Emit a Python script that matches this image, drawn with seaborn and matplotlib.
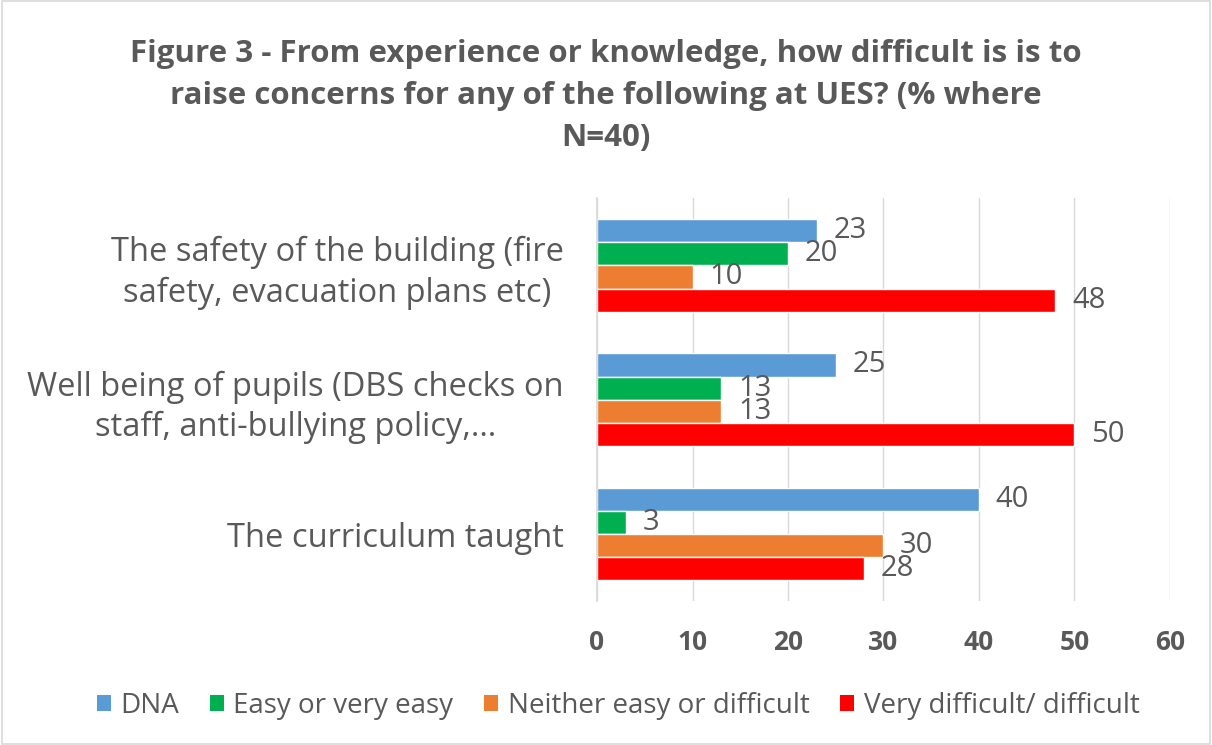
import matplotlib
matplotlib.use("Agg")
import matplotlib.pyplot as plt
import seaborn as sns
import pandas as pd
from matplotlib.patches import Rectangle, Patch

categories = ["The safety of the building (fire\nsafety, evacuation plans etc)",
              "Well being of pupils (DBS checks on\nstaff, anti-bullying policy,\u2026",
              "The curriculum taught"]
series = ["DNA", "Easy or very easy", "Neither easy or difficult", "Very difficult/ difficult"]
dna = [23, 25, 40]
easy = [20, 13, 3]
neither = [10, 13, 30]
very_difficult = [48, 50, 28]
colors = ["#5B9BD5", "#00B050", "#ED7D31", "#FF0000"]
xticks = [0, 10, 20, 30, 40, 50, 60]

rows = []
for s, vals in zip(series, [dna, easy, neither, very_difficult]):
    for c, v in zip(categories, vals):
        rows.append({"Category": c, "Series": s, "Value": v})
df = pd.DataFrame(rows)

sns.set_theme(style="white")
plt.rcParams["font.family"] = ["Open Sans", "DejaVu Sans"]
grey = "#595959"

fig = plt.figure(figsize=(12.12, 7.45), dpi=100)
ax = fig.add_axes([0.4926, 0.193, 0.4727, 0.541])

sns.barplot(data=df, y="Category", x="Value", hue="Series", order=categories,
            hue_order=series, palette=colors, orient="h", width=0.69,
            saturation=1, ax=ax, legend=False)

for container in ax.containers:
    ax.bar_label(container, padding=12, fontsize=21, color=grey)

ax.set_xlim(0, 60)
ax.set_xticks(xticks)
ax.set_xticklabels([str(t) for t in xticks], fontsize=19, fontweight="bold", color=grey)
ax.set_xlabel("")
ax.set_ylabel("")
ax.xaxis.grid(True, color="#D9D9D9", linewidth=1)
ax.set_axisbelow(True)
for side in ["top", "right", "bottom"]:
    ax.spines[side].set_visible(False)
ax.spines["left"].set_color("#D9D9D9")
ax.tick_params(axis="x", length=0, pad=20)
ax.tick_params(axis="y", length=0, pad=24)
for lbl in ax.get_yticklabels():
    lbl.set_fontsize(23.5)
    lbl.set_color(grey)
    lbl.set_multialignment("center")
    lbl.set_linespacing(1.3)

fig.text(0.5, 0.948, "Figure 3 - From experience or knowledge, how difficult is is to\nraise concerns for any of the following at UES? (% where\nN=40)",
         ha="center", va="top", fontsize=22.5, fontweight="bold", color=grey, linespacing=1.52)

handles = [Patch(facecolor=c, edgecolor="none") for c in colors]
fig.legend(handles, series, loc="center", bbox_to_anchor=(0.51, 0.053), ncol=4,
           frameon=False, fontsize=20, labelcolor=grey, handlelength=0.5,
           handleheight=0.5, handletextpad=0.35, columnspacing=1.1)

fig.patches.append(Rectangle((0.002, 0.002), 0.996, 0.996, transform=fig.transFigure,
                             fill=False, edgecolor="#D9D9D9", linewidth=1.2))

fig.savefig("out.png", dpi=100, facecolor="white")
